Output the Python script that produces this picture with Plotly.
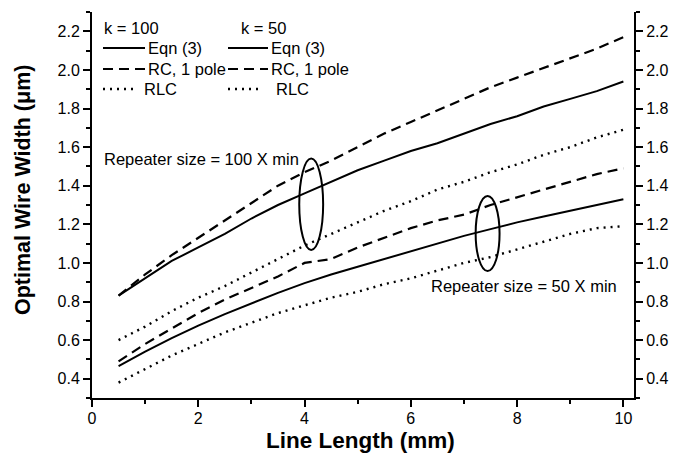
import plotly.graph_objects as go

# ---------------- data ----------------
length_mm = [0.5, 1, 1.5, 2, 2.5, 3, 3.5, 4, 4.5, 5, 5.5, 6, 6.5, 7, 7.5, 8, 8.5, 9, 9.5, 10]

k100_eqn = [0.83, 0.92, 1.01, 1.08, 1.15, 1.23, 1.30, 1.36, 1.42, 1.48, 1.53, 1.58, 1.62, 1.67, 1.72, 1.76, 1.81, 1.85, 1.89, 1.94]
k100_rc = [0.83, 0.94, 1.04, 1.13, 1.22, 1.31, 1.40, 1.47, 1.53, 1.60, 1.67, 1.73, 1.79, 1.85, 1.91, 1.96, 2.01, 2.06, 2.11, 2.17]
k100_rlc = [0.60, 0.67, 0.75, 0.82, 0.88, 0.95, 1.02, 1.09, 1.15, 1.21, 1.27, 1.32, 1.38, 1.42, 1.47, 1.51, 1.56, 1.60, 1.65, 1.69]

k50_eqn = [0.465, 0.54, 0.61, 0.675, 0.735, 0.79, 0.845, 0.895, 0.94, 0.98, 1.02, 1.06, 1.10, 1.14, 1.175, 1.21, 1.24, 1.27, 1.30, 1.33]
k50_rc = [0.49, 0.58, 0.66, 0.74, 0.81, 0.87, 0.93, 1.00, 1.02, 1.08, 1.13, 1.18, 1.22, 1.25, 1.30, 1.34, 1.38, 1.42, 1.46, 1.49]
k50_rlc = [0.38, 0.45, 0.52, 0.58, 0.64, 0.69, 0.74, 0.78, 0.82, 0.85, 0.89, 0.92, 0.96, 1.00, 1.03, 1.07, 1.11, 1.15, 1.18, 1.19]

x_range = [0, 10.2]
y_range = [0.3, 2.3]

FONT = "Liberation Sans, Arial, sans-serif"

# plot area in pixels
L, R, T, B = 92, 634, 12, 398
W, H = 680, 458


def px(xp):
    return (xp - L) / (R - L)


def py(yp):
    return (B - yp) / (B - T)


fig = go.Figure()

styles = {"solid": dict(dash="solid", width=2),
          "dash": dict(dash="10px,6px", width=2.2),
          "dot": dict(dash="2px,5px", width=2.4)}

series = [
    (k100_eqn, "solid", "y"),
    (k100_rc, "dash", "y"),
    (k100_rlc, "dot", "y"),
    (k50_eqn, "solid", "y"),
    (k50_rc, "dash", "y"),
    (k50_rlc, "dot", "y2"),
]
for vals, st, ax in series:
    fig.add_trace(go.Scatter(x=length_mm, y=vals, mode="lines",
                             line=dict(color="black", **styles[st]),
                             yaxis=ax, showlegend=False, hoverinfo="skip"))

axis_common = dict(
    showline=True, linecolor="black", linewidth=2,
    ticks="outside", ticklen=7, tickwidth=2, tickcolor="black",
    showgrid=False, zeroline=False,
    tickfont=dict(family=FONT, size=16, color="black"),
)
minor = dict(ticks="outside", ticklen=4, tickwidth=2, tickcolor="black")

fig.update_layout(
    width=W, height=H,
    margin=dict(l=L, r=W - R, t=T, b=H - B),
    plot_bgcolor="white", paper_bgcolor="white",
    xaxis=dict(range=x_range, dtick=2, tick0=0, ticklabelstandoff=-2,
               minor=dict(dtick=1, **minor), **axis_common),
    yaxis=dict(range=y_range, dtick=0.2, tick0=0.4, tickformat=".1f",
               minor=dict(dtick=0.1, **minor), **axis_common),
    yaxis2=dict(range=y_range, dtick=0.2, tick0=0.4, tickformat=".1f", overlaying="y", side="right",
                minor=dict(dtick=0.1, **minor), **axis_common),
    showlegend=False,
)

annotations = []


def text(s, xp, yp, size, xanchor="left", **kw):
    annotations.append(dict(text=s, xref="paper", yref="paper", x=px(xp), y=py(yp),
                            xanchor=xanchor, yanchor="middle", showarrow=False,
                            font=dict(family=FONT, size=size, color="black"), **kw))


# axis titles
text("<b>Optimal Wire Width (μm)</b>", 23, 190, 21.5, xanchor="center", textangle=-90)
text("<b>Line Length (mm)</b>", 360, 440, 22.5, xanchor="center")

# in-plot labels
text("Repeater size = 100 X min", 102, 159, 16.5)
text("Repeater size = 50 X min", 429, 286, 16.5)

# legend (manual, two columns)
legend_cols = [
    dict(header="k = 100", hx=102, lx0=103, lx1=145, tx=146, dotx1=138, rlctx=142),
    dict(header="k = 50", hx=239, lx0=228, lx1=268, tx=269, dotx1=262, rlctx=274),
]
rows = [("Eqn (3)", "solid", 48), ("RC, 1 pole", "dash", 69), ("RLC", "dot", 89)]
shapes = []
for col in legend_cols:
    text(col["header"], col["hx"], 28, 16.5)
    for label, st, yy in rows:
        x1 = col["dotx1"] if st == "dot" else col["lx1"]
        tx = col["rlctx"] if st == "dot" else col["tx"]
        shapes.append(dict(type="line", xref="paper", yref="paper",
                           x0=px(col["lx0"]), x1=px(x1), y0=py(yy), y1=py(yy),
                           line=dict(color="black", **styles[st])))
        text(label, tx, yy, 16.5)

# ellipses
shapes.append(dict(type="circle", xref="x", yref="y", x0=3.90, x1=4.35, y0=1.067, y1=1.541,
                   line=dict(color="black", width=2)))
shapes.append(dict(type="circle", xref="x", yref="y", x0=7.22, x1=7.67, y0=0.958, y1=1.347,
                   line=dict(color="black", width=2)))

fig.update_layout(annotations=annotations, shapes=shapes)

fig.write_html("out.html")
